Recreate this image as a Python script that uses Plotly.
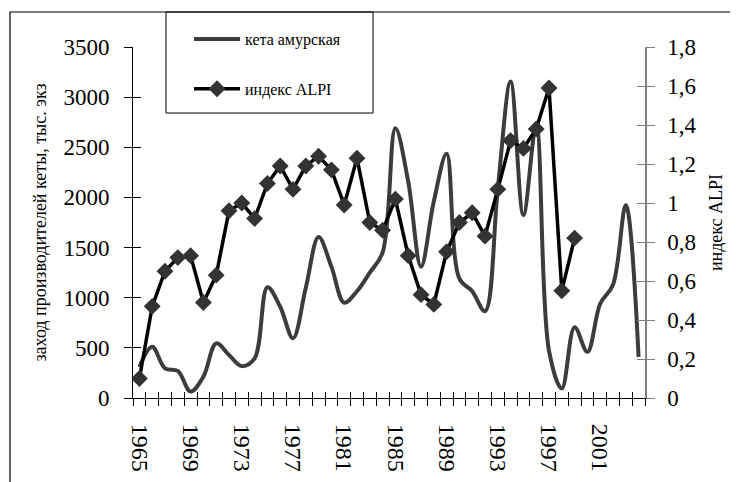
import plotly.graph_objects as go

# ---------------- data ----------------
years = list(range(1965, 2005))
keta = [310, 510, 296, 270, 65, 213, 545, 429, 318, 396,
        1105, 910, 595, 1100, 1605, 1310, 950, 1065, 1250, 1450,
        2690, 2160, 1310, 1960, 2435, 1190, 1065, 865, 2090, 3155,
        1825, 2720, 470, 95, 705, 460, 940, 1130, 1925, 410]

alpi_years = list(range(1965, 2000))
alpi = [0.10, 0.47, 0.65, 0.72, 0.73, 0.49, 0.63, 0.96, 1.00, 0.92,
        1.10, 1.19, 1.07, 1.19, 1.24, 1.17, 0.99, 1.23, 0.90, 0.86,
        1.02, 0.73, 0.53, 0.48, 0.75, 0.90, 0.95, 0.83, 1.07, 1.32,
        1.28, 1.38, 1.59, 0.55, 0.82]

left_tickvals = [0, 500, 1000, 1500, 2000, 2500, 3000, 3500]
left_ticktext = ["0", "500", "1000", "1500", "2000", "2500", "3000", "3500"]
right_tickvals = [0, 0.2, 0.4, 0.6, 0.8, 1.0, 1.2, 1.4, 1.6, 1.8]
right_ticktext = ["0", "0,2", "0,4", "0,6", "0,8", "1", "1,2", "1,4", "1,6", "1,8"]
x_label_years = [1965, 1969, 1973, 1977, 1981, 1985, 1989, 1993, 1997, 2001]
x_label_text = [str(y) for y in x_label_years]
x_boundaries = [1964.5 + i for i in range(41)]

# ---------------- geometry ----------------
# the page body has an 8px default margin, so the figure starts at (8, 8)
OFF = 8
W, H = 738 - OFF, 482 - OFF
# plot area in page pixels: x 133..645, y 47..398
PL, PR, PT, PB = 133, 645, 47, 398
L, R, T, B = PL - OFF, W - (PR - OFF), PT - OFF, H - (PB - OFF)
pw, ph = W - L - R, H - T - B

def px_x(x):  # page px -> paper fraction
    return (x - OFF - L) / pw

def px_y(y):
    return (H - B - (y - OFF)) / ph

FONT = "Liberation Serif"
XR = [1964.5, 2004.5]

fig = go.Figure()
fig.add_trace(go.Scatter(
    x=years, y=keta, mode="lines", name="кета амурская",
    line=dict(color="#3c3c3c", width=4, shape="spline", smoothing=1),
    legendgroup="a", yaxis="y"))
fig.add_trace(go.Scatter(
    x=alpi_years, y=alpi, mode="lines+markers", name="индекс ALPI",
    line=dict(color="black", width=3.5),
    marker=dict(symbol="diamond", size=13, color="#333333",
                line=dict(color="#333333", width=0)),
    legendgroup="b", yaxis="y2"))
# helper (empty) traces so the tick-overlay axes are rendered
fig.add_trace(go.Scatter(x=[None], y=[None], xaxis="x", yaxis="y3",
                         showlegend=False, hoverinfo="skip"))
fig.add_trace(go.Scatter(x=[None], y=[None], xaxis="x", yaxis="y4",
                         showlegend=False, hoverinfo="skip"))
fig.add_trace(go.Scatter(x=[None], y=[None], xaxis="x2", yaxis="y",
                         showlegend=False, hoverinfo="skip"))

common_off = dict(showgrid=False, zeroline=False, automargin=False)

fig.update_layout(
    width=W, height=H,
    margin=dict(l=L, r=R, t=T, b=B, autoexpand=False),
    paper_bgcolor="white", plot_bgcolor="white",
    font=dict(family=FONT, color="black"),
    separators=", ",
    showlegend=True,
    legend=dict(x=px_x(189), y=px_y(22), xanchor="left", yanchor="top",
                bgcolor="rgba(0,0,0,0)", borderwidth=0,
                font=dict(family=FONT, size=16, color="black"),
                traceorder="grouped", tracegroupgap=26, itemwidth=46),
    xaxis=dict(range=XR, tickmode="array", tickvals=x_label_years,
               ticktext=x_label_text, tickangle=90, ticks="",
               showline=True, linecolor="black", linewidth=1,
               tickfont=dict(family=FONT, size=24, color="black"),
               ticklabelstandoff=20,
               minor=dict(tickmode="array", tickvals=x_boundaries,
                          ticks="outside", ticklen=7, tickwidth=1,
                          tickcolor="black", showgrid=False),
               **common_off),
    xaxis2=dict(range=XR, overlaying="x", anchor="y", tickmode="array",
                tickvals=x_boundaries, ticks="inside", ticklen=6,
                tickwidth=1, tickcolor="black", showticklabels=False,
                showline=False, **common_off),
    yaxis=dict(range=[0, 3500], tickmode="array", tickvals=left_tickvals,
               ticktext=left_ticktext, ticks="outside", ticklen=8,
               tickwidth=1, tickcolor="black", showline=True,
               linecolor="black", linewidth=1,
               tickfont=dict(family=FONT, size=23, color="black"),
               ticklabelstandoff=10,
               title=dict(text="заход производителей кеты, тыс. экз",
                          font=dict(family=FONT, size=18, color="black"),
                          standoff=12),
               **common_off),
    yaxis2=dict(range=[0, 1.8], overlaying="y", side="right", anchor="x",
                tickmode="array", tickvals=right_tickvals,
                ticktext=right_ticktext, ticks="outside", ticklen=8,
                tickwidth=1, tickcolor="#808080", showline=True,
                linecolor="#808080", linewidth=1.5,
                tickfont=dict(family=FONT, size=23, color="black"),
                ticklabelstandoff=8,
                title=dict(text="индекс ALPI",
                           font=dict(family=FONT, size=18, color="black"),
                           standoff=14),
                **common_off),
    yaxis3=dict(range=[0, 3500], overlaying="y", side="left", anchor="x",
                tickmode="array", tickvals=left_tickvals, ticks="inside",
                ticklen=8, tickwidth=1, tickcolor="black",
                showticklabels=False, showline=False, **common_off),
    yaxis4=dict(range=[0, 1.8], overlaying="y", side="right", anchor="x",
                tickmode="array", tickvals=right_tickvals, ticks="inside",
                ticklen=8, tickwidth=1, tickcolor="#808080",
                showticklabels=False, showline=False, **common_off),
    shapes=[
        # outer chart frame (top and left edges visible)
        dict(type="rect", xref="paper", yref="paper",
             x0=px_x(10), x1=px_x(760), y0=px_y(520), y1=px_y(12),
             line=dict(color="black", width=1.2), fillcolor="rgba(0,0,0,0)",
             layer="above"),
        # legend box
        dict(type="rect", xref="paper", yref="paper",
             x0=px_x(166), x1=px_x(373), y0=px_y(113), y1=px_y(12),
             line=dict(color="black", width=1), fillcolor="rgba(0,0,0,0)",
             layer="above"),
    ],
)

fig.write_html("out.html")
